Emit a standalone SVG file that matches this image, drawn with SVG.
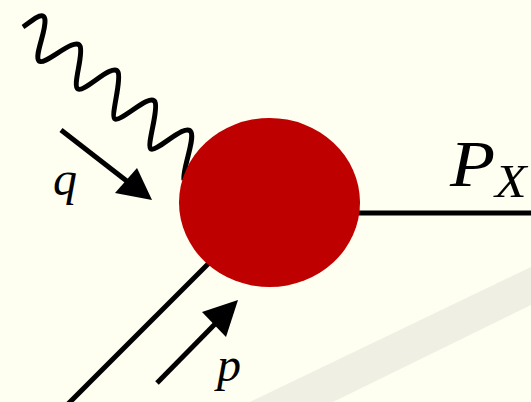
<svg xmlns="http://www.w3.org/2000/svg" width="531" height="402" viewBox="0 0 531 402">
<style>
.ln{fill:none;stroke:#000;stroke-width:5;stroke-linecap:butt}
.lbl{font-family:"Liberation Serif","DejaVu Serif",serif;font-style:italic;fill:#000}
</style>
<rect width="531" height="402" fill="#fefff0"/>
<polygon points="250,402 333,402 531,305 531,267" fill="#efefe3"/>
<g id="connectors">
<path class="ln" d="M23,27 C31,22 44,9 45,20 C46,32 34,56 39,61 C45,66 75,36 80,46 C84,54 72,86 78,89 C84,93 113,62 118,72 C122,80 110,117 115,119 C121,122 151,92 155,102 C159,110 146,146 151,149 C157,152 186,122 191,132 C195,140 182,170 184,180"/>
<line class="ln" x1="68" y1="404" x2="215" y2="257"/>
<line class="ln" x1="340" y1="213" x2="531" y2="213"/>
<line class="ln" x1="61" y1="130" x2="128" y2="182"/>
<polygon points="152,200 115,193 137,168" fill="#000"/>
<line class="ln" x1="157" y1="383" x2="216" y2="323"/>
<polygon points="238,300 202,312 226,337" fill="#000"/>
</g>
<g id="blob">
<ellipse cx="269.5" cy="202.5" rx="90.5" ry="84.5" fill="#bf0000"/>
</g>
<g id="labels">
<text class="lbl" x="53" y="195" font-size="48">q</text>
<text class="lbl" x="217" y="381" font-size="48">p</text>
<text class="lbl" x="450" y="186" font-size="66" transform="translate(450 186) scale(1.12 1) translate(-450 -186)">P</text>
<text class="lbl" x="495" y="197" font-size="47" transform="translate(495 197) scale(1.1 1) translate(-495 -197)">X</text>
</g>
</svg>
